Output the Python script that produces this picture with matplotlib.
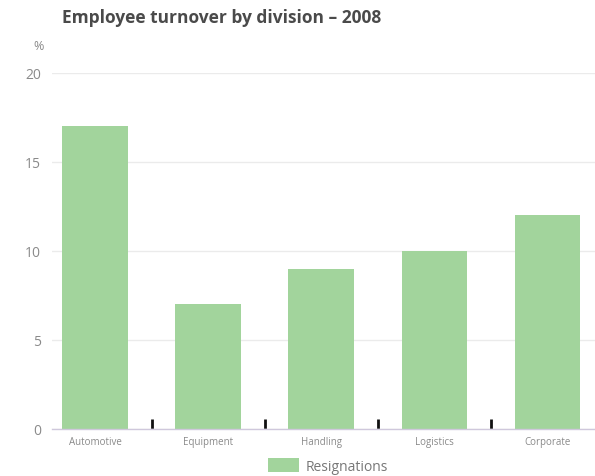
import matplotlib
matplotlib.use("Agg")
import matplotlib.pyplot as plt
from matplotlib.patches import Patch
import numpy as np

divisions = ["Automotive", "Equipment", "Handling", "Logistics", "Corporate"]
resignations = [17, 7, 9, 10, 12]
yticks = [0, 5, 10, 15, 20]

plt.rcParams['font.family'] = ['Open Sans', 'DejaVu Sans']

fig = plt.figure(figsize=(5.95, 4.77), dpi=100)
ax = fig.add_axes([52 / 595, 1 - 430 / 477, 1 - 52 / 595, (430 - 74) / 477])

bar_color = "#a2d49c"
x = np.arange(len(divisions))
ax.bar(x, resignations, width=0.58, color=bar_color, zorder=2)

ax.set_xlim(-0.38, 4.42)
ax.set_ylim(0, 20)
ax.set_yticks(yticks)
ax.set_yticklabels([str(v) for v in yticks])
ax.yaxis.grid(True, color="#ebebeb", linewidth=1, zorder=0)
ax.set_axisbelow(True)

for side in ["top", "right", "left"]:
    ax.spines[side].set_visible(False)
ax.spines["bottom"].set_color("#cfc8dc")
ax.spines["bottom"].set_linewidth(1)

ax.set_xticks(x)
ax.set_xticklabels(divisions, fontsize=7, color="#8a8a8a")
ax.set_xticks(x[:-1] + 0.5, minor=True)
ax.tick_params(axis="x", which="major", length=0, pad=5)
ax.tick_params(axis="x", which="minor", direction="in", length=7, width=2, color="#111111")
ax.tick_params(axis="y", length=0, labelsize=10, labelcolor="#8a8a8a", pad=8)

fig.text(62 / 595, 1 - 18 / 477, "Employee turnover by division \u2013 2008",
         fontsize=12.5, fontweight="bold", color="#4a4a4a", va="center", ha="left")
fig.text(44 / 595, 1 - 47 / 477, "%", fontsize=9, color="#8a8a8a", va="center", ha="right")

handles = [Patch(facecolor=bar_color, edgecolor="none", label="Resignations")]
fig.legend(handles=handles, loc="center", bbox_to_anchor=(328 / 595, 1 - 467 / 477),
           frameon=False, fontsize=10, handlelength=2.2, handleheight=1.1,
           handletextpad=0.5, labelcolor="#777777")

fig.savefig("out.png", dpi=100)
